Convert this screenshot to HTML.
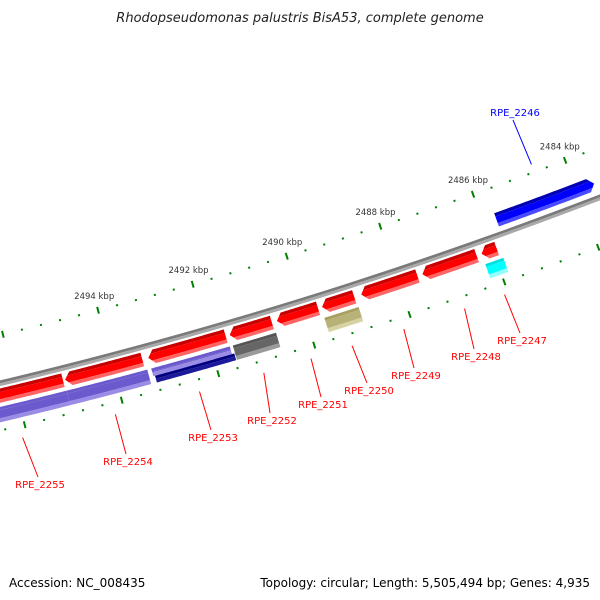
<!DOCTYPE html>
<html><head><meta charset="utf-8"><style>
html,body{margin:0;padding:0;background:#fff;}
svg{display:block;font-family:"DejaVu Sans","Liberation Sans",sans-serif;}
</style></head><body>
<svg id="chart" width="600" height="600" viewBox="0 0 600 600" xmlns="http://www.w3.org/2000/svg">
<text x="300" y="22" text-anchor="middle" font-size="13" font-style="italic" fill="#222">Rhodopseudomonas palustris BisA53, complete genome</text>
<g id="ticks"></g>
<g id="backbone"></g>
<g id="genes"></g>
<g id="labels"></g>
<text x="9" y="587" font-size="12" fill="#000">Accession: NC_008435</text>
<text x="590" y="587" text-anchor="end" font-size="12" fill="#000">Topology: circular; Length: 5,505,494 bp; Genes: 4,935</text>
</svg>
<script>
// data
const geneNames = ["RPE_2255","RPE_2254","RPE_2253","RPE_2252","RPE_2251","RPE_2250","RPE_2249","RPE_2248","RPE_2247","RPE_2246"];
const geneStarts = [2495041,2493391,2491649,2490680,2489708,2488944,2487605,2486346,2485918,2483619];
const geneEnds   = [2497200,2494998,2493266,2491565,2490574,2489623,2488796,2487499,2486239,2485725];
const geneStrand = [-1,-1,-1,-1,-1,-1,-1,-1,-1,1];
const featStarts = [2495020,2493348,2491628,2491580,2490659,2488923,2485855];
const featEnds   = [2497200,2495020,2493266,2493230,2491565,2489644,2486239];
const featKinds  = ["purple","purple","purple","navy","gray","olive","cyan"];
const tickStartBp = 2482000, tickEndBp = 2498000;
const majorTickKbp = [2482,2484,2486,2488,2490,2492,2494,2496,2498];
const labelX = [40,128,213,272,323,369,416,476,522,515];
const labelY = [488,465,441,424,408,394,379,360,344,116];

// geometry
const CX=-1088, CY=-4188, RB=4699, RIN=4652, ROUT=4745;
const A0=1.3130, K=1.055e-5, REFBP=2494000;
function ang(bp){return A0+(bp-REFBP)*K;}
function pt(r,a){return [CX+r*Math.cos(a), CY+r*Math.sin(a)];}
const NS="http://www.w3.org/2000/svg";
function mk(tag,parent,attrs){const e=document.createElementNS(NS,tag);for(const k in attrs)e.setAttribute(k,attrs[k]);parent.appendChild(e);return e;}
function arcPts(r,a1,a2){const n=40,o=[];for(let i=0;i<=n;i++){o.push(pt(r,a1+(a2-a1)*i/n));}return o;}
function band(parent,r1,r2,a1,a2,fill,name){
  const p=arcPts(r1,a1,a2).concat(arcPts(r2,a2,a1));
  const e=mk("polygon",parent,{points:p.map(q=>q[0].toFixed(2)+","+q[1].toFixed(2)).join(" "),fill:fill});
  
  
  return e;
}
// layered arrow: gene spans [aLow,aHigh], tip at aTip side
function arrowLayer(parent,r1,r2,a,b,aBase,aHead,aTip,fill,name){
  const rm=(r1+r2)/2, half=(r2-r1)/2;
  const th=r=>aHead+(aTip-aHead)*(1-Math.abs(r-rm)/half);
  let p=arcPts(a,aBase,th(a));
  if(a<rm&&rm<b) p.push(pt(rm,aTip));
  p=p.concat(arcPts(b,th(b),aBase));
  const e=mk("polygon",parent,{points:p.map(q=>q[0].toFixed(2)+","+q[1].toFixed(2)).join(" "),fill:fill});
  
  
}
const ticksG=document.getElementById("ticks");
for(let bp=tickStartBp; bp<=tickEndBp; bp+=400){
  const a=ang(bp);
  const major=(bp%2000===0);
  [RIN,ROUT].forEach(r=>{
    const L=major?3.5:1;
    const p1=pt(r-L,a),p2=pt(r+L,a);
    const l=mk("line",ticksG,{x1:p1[0],y1:p1[1],x2:p2[0],y2:p2[1],stroke:"#008000","stroke-width":2});
    
    
  });
}
majorTickKbp.forEach(k=>{
  const p=pt(RIN-15,ang(k*1000));
  if(p[0]<45||p[0]>590) return;
  const t=mk("text",ticksG,{x:p[0],y:p[1]+3,"text-anchor":"middle","font-size":"8.5",fill:"#333"});
  t.textContent=k+" kbp";
  
  
});
const bb=document.getElementById("backbone");
band(bb,RB-2.8,RB,ang(2480000),ang(2500000),"#7a7a7a","backbone-top");
band(bb,RB,RB+2.8,ang(2480000),ang(2500000),"#a9a9a9","backbone-bottom");

const gg=document.getElementById("genes");
const HEAD=6/RB*1.0;
geneNames.forEach((nm,i)=>{
  const g=mk("g",gg,{});
  
  
  const lo=ang(geneStarts[i]), hi=ang(geneEnds[i]);
  let r1,r2,cols,aBase,aTip,aHead;
  if(geneStrand[i]<0){r1=RB+5;r2=RB+19;cols=["#c80000","#ff0000","#ff6464"];aBase=lo;aTip=hi;aHead=hi-HEAD;}
  else {r1=RB-22;r2=RB-8;cols=["#0000b4","#0000ff","#4a4aff"];aBase=hi;aTip=lo;aHead=lo+HEAD;}
  const layers=[[r1,r1+3.5,cols[0]],[r1+3.5,r2-3.5,cols[1]],[r2-3.5,r2,cols[2]]];
  layers.forEach(L=>arrowLayer(g,r1,r2,L[0],L[1],aBase,aHead,aTip,L[2],'gene-shape'));
});
const featCols={purple:["#6a5acd","#6a5acd","#9a8ce6"],navy:["#000080","#000080","#1a1a9a"],gray:["#555","#666","#9a9a9a"],olive:["#a8a060","#b8b278","#d6d2a2"],cyan:["#00e0e0","#00ffff","#90ffff"]};
featKinds.forEach((k,i)=>{
  const g=mk("g",gg,{});
  
  
  const lo=ang(featStarts[i]), hi=ang(featEnds[i]);
  let r1=RB+23, r2=RB+38;
  if(k==="purple"&&i===2){r2=RB+31;}
  if(k==="navy"){r1=RB+31;}
  const c=featCols[k];
  band(g,r1,r1+3,lo,hi,c[0],'feature-top');
  band(g,r1+3,r2-4,lo,hi,c[1],'feature-body');
  band(g,r2-4,r2,lo,hi,c[2],'feature-bottom');
});
const lg=document.getElementById("labels");
geneNames.forEach((nm,i)=>{
  const mid=ang((geneStarts[i]+geneEnds[i])/2);
  const fwd=geneStrand[i]>0;
  const mbp=(i===0)?2496100:(geneStarts[i]+geneEnds[i])/2;
  const a=ang(mbp);
  const p=pt(fwd?RIN-8:ROUT+12,a);
  const col=fwd?"#0000ff":"#ff0000";
  const lx=labelX[i], ly=fwd?labelY[i]+4:labelY[i]-11;
  const l=mk("line",lg,{x1:p[0],y1:p[1],x2:lx-2,y2:ly,stroke:col,"stroke-width":1});
  
  
  const t=mk("text",lg,{x:lx,y:labelY[i],"text-anchor":"middle","font-size":"10",fill:col});
  t.textContent=nm;
  
  
});
</script>
</body></html>
